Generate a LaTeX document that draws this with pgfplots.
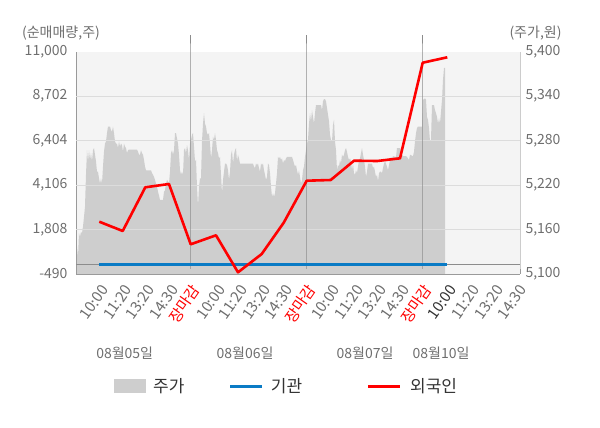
\documentclass[border=0pt]{standalone}
\usepackage{fontspec}
\setmainfont{Noto Sans CJK KR}
\usepackage{pgfplots}
\usepackage{pgfplotstable}
\pgfplotsset{compat=1.18}
\definecolor{bggray}{HTML}{F4F4F4}
\definecolor{areagray}{HTML}{CECECE}
\definecolor{gridgray}{HTML}{DCDCDC}
\definecolor{axgray}{HTML}{9A9A9A}
\definecolor{rightax}{HTML}{CCCCCC}
\definecolor{daygray}{HTML}{8C8C8C}
\definecolor{txtgray}{HTML}{6E6E6E}
\definecolor{darktxt}{HTML}{333333}
\definecolor{instblue}{HTML}{0A7BC5}
\definecolor{forred}{HTML}{FF0000}
\newcommand{\tickfont}{\fontsize{14bp}{16bp}\selectfont}
\newcommand{\xtickfont}{\fontsize{15bp}{17bp}\selectfont}
\newcommand{\legfont}{\fontsize{17bp}{20bp}\selectfont}

% price (right axis), x in pixels from left axis
\pgfplotstableread{
x y
0 5159
1 5137
2 5123
3 5155
4 5150
5 5157
6 5155
7 5164
8 5177
9 5191
10 5234
11 5267
12 5252
13 5267
14 5254
15 5263
16 5252
17 5267
18 5270
19 5261
20 5252
21 5238
22 5238
23 5229
24 5222
25 5229
26 5222
27 5245
28 5265
29 5276
30 5279
31 5290
32 5299
34 5299
35 5294
36 5292
37 5299
38 5290
39 5279
40 5276
41 5276
42 5270
43 5279
44 5272
45 5276
46 5274
47 5265
48 5276
49 5272
50 5270
51 5263
52 5267
53 5268
61 5268
62 5265
63 5261
64 5261
65 5267
66 5263
67 5261
68 5254
69 5245
70 5240
75 5240
76 5236
77 5234
78 5231
79 5227
80 5222
81 5218
82 5211
83 5206
84 5200
87 5200
88 5211
89 5213
90 5222
91 5227
92 5225
93 5222
94 5238
95 5263
96 5267
97 5261
98 5267
99 5290
100 5290
101 5283
102 5276
103 5261
104 5240
105 5234
106 5238
107 5234
108 5267
109 5270
110 5263
111 5274
112 5267
113 5254
114 5276
115 5281
116 5288
117 5290
118 5272
119 5252
120 5254
121 5218
122 5191
123 5218
124 5229
125 5229
126 5279
127 5303
128 5317
129 5303
130 5299
131 5290
132 5288
133 5290
134 5276
135 5256
136 5267
137 5285
138 5281
139 5290
140 5281
141 5267
142 5263
143 5256
144 5258
145 5234
146 5209
147 5227
148 5238
149 5249
150 5249
151 5247
152 5240
153 5227
154 5238
155 5261
156 5267
157 5249
158 5261
159 5267
160 5270
161 5252
162 5261
163 5256
164 5249
177 5249
178 5245
179 5243
180 5249
181 5247
182 5249
183 5243
184 5238
185 5249
186 5247
187 5249
188 5240
189 5234
190 5227
191 5231
192 5249
193 5247
194 5236
195 5218
196 5204
197 5209
198 5204
199 5209
200 5222
201 5236
202 5258
203 5256
204 5258
205 5254
206 5256
207 5249
208 5254
209 5252
210 5256
211 5258
216 5258
217 5254
218 5249
219 5245
220 5247
221 5240
222 5234
223 5240
224 5231
225 5222
226 5227
227 5240
228 5245
229 5258
230 5267
231 5276
232 5281
233 5303
234 5317
235 5306
236 5321
237 5312
238 5303
239 5317
240 5328
245 5328
246 5321
247 5333
248 5336
249 5336
250 5333
251 5324
252 5315
253 5306
254 5288
255 5281
256 5279
257 5301
258 5308
259 5279
260 5267
261 5240
262 5247
263 5245
264 5254
265 5249
266 5261
267 5258
268 5261
269 5267
270 5270
271 5265
272 5258
273 5254
274 5256
275 5252
276 5240
277 5249
278 5236
279 5234
280 5240
281 5236
282 5245
283 5254
284 5256
285 5263
286 5270
287 5261
288 5254
289 5245
290 5231
291 5238
292 5249
296 5249
297 5243
298 5245
299 5238
300 5231
301 5234
302 5225
303 5236
304 5238
305 5238
306 5236
307 5243
308 5249
309 5252
310 5249
311 5245
312 5240
313 5247
314 5254
315 5258
316 5256
317 5259
320 5258
321 5270
324 5270
325 5267
326 5261
327 5259
330 5259
331 5258
332 5256
333 5254
334 5261
337 5259
338 5265
339 5279
340 5290
341 5297
342 5299
346 5299
347 5335
348 5336
349 5337
350 5335
351 5312
352 5308
353 5297
354 5279
355 5281
356 5328
358 5328
359 5321
360 5317
361 5312
362 5303
363 5310
364 5303
365 5319
366 5335
367 5362
368 5378
369 5378
}\pricetable

% foreign net buying (left axis)
\pgfplotstableread{
x y
23.3 2213
46.7 1732
69.3 3991
93.0 4161
114.7 1045
140.0 1510
162.0 -403
185.7 543
207.7 2161
230.7 4332
254.7 4368
278.0 5366
301.3 5350
324.0 5490
346.7 10431
371.3 10711
}\foreigntable

% institutional net buying (left axis)
\pgfplotstableread{
x y
23.3 0
46.7 0
69.3 0
93.0 0
114.7 0
140.0 0
162.0 0
185.7 0
207.7 0
230.7 0
254.7 0
278.0 0
301.3 0
324.0 0
346.7 0
371.3 0
}\insttable

\begin{document}
\begin{tikzpicture}
\path[use as bounding box] (0,0) rectangle (600bp,428bp);

% ---- right axis: price area ----
\begin{axis}[
  at={(76bp,154bp)}, anchor=south west,
  scale only axis, width=444bp, height=222.3bp,
  xmin=0, xmax=444, ymin=5100, ymax=5400,
  scaled y ticks=false,
  axis background/.style={fill=bggray},
  axis x line=none,
  axis y line*=right,
  y axis line style={draw=rightax, -},
  ytick={5100,5160,5220,5280,5340,5400},
  yticklabels={{5,100},{5,160},{5,220},{5,280},{5,340},{5,400}},
  major tick length=0pt,
  yticklabel style={font=\tickfont, text=txtgray, anchor=west, xshift=2bp},
]
\addplot[fill=areagray, draw=none] table {\pricetable} \closedcycle;
\end{axis}

% ---- left axis: net buying ----
\begin{axis}[
  at={(76bp,154bp)}, anchor=south west,
  scale only axis, width=444bp, height=222.3bp,
  xmin=0, xmax=444, ymin=-490, ymax=11000,
  scaled y ticks=false, scaled x ticks=false,
  clip=false,
  axis x line*=bottom, axis y line*=left,
  axis line style={draw=axgray, -},
  ytick={-490,1808,4106,6404,8702,11000},
  yticklabels={-490,{1,808},{4,106},{6,404},{8,702},{11,000}},
  extra y ticks={1808,4106,6404,8702},
  extra y tick labels={},
  extra y tick style={grid=major, major grid style={draw=gridgray, line width=1bp}},
  xtick={23.3,46.7,69.3,93.0,114.7,140.0,162.0,185.7,207.7,230.7,254.7,278.0,301.3,324.0,346.7,371.3,394.6,417.9,441.2},
  xticklabels={10:00,11:20,13:20,14:30,\textcolor{forred}{장마감},
               10:00,11:20,13:20,14:30,\textcolor{forred}{장마감},
               10:00,11:20,13:20,14:30,\textcolor{forred}{장마감},
               \textcolor{darktxt}{10:00},11:20,13:20,14:30},
  major tick length=0pt,
  yticklabel style={font=\tickfont, text=txtgray, anchor=east, xshift=-5bp},
  xticklabel style={font=\xtickfont, text=txtgray, rotate=55, anchor=east, xshift=-4bp, yshift=-12bp},
]
\draw[daygray, line width=0.9bp] (axis cs:114,-490) ++(0,-4bp) -- (axis cs:114,11000) -- ++(0,7bp);
\draw[daygray, line width=0.9bp] (axis cs:230,-490) ++(0,-4bp) -- (axis cs:230,11000) -- ++(0,7bp);
\draw[daygray, line width=0.9bp] (axis cs:346,-490) ++(0,-4bp) -- (axis cs:346,11000) -- ++(0,7bp);
\draw[axgray, line width=0.9bp] (axis cs:0,-490) -- ++(0,-4bp);
\draw[axgray, line width=0.9bp] (axis cs:444,-490) -- ++(0,-4bp);
\addplot[daygray, line width=0.9bp] coordinates {(0,0) (444,0)};
\addplot[instblue, line width=3bp] table {\insttable};
\addplot[forred, line width=2.6bp, line join=round] table {\foreigntable};
\end{axis}

% units
\node[font=\tickfont, text=txtgray] at (61bp,394.7bp) {(순매매량,주)};
\node[font=\tickfont, text=txtgray] at (535.5bp,394.7bp) {(주가,원)};

% dates
\node[font=\tickfont, text=txtgray] at (124.7bp,74.7bp) {08월05일};
\node[font=\tickfont, text=txtgray] at (245bp,74.7bp) {08월06일};
\node[font=\tickfont, text=txtgray] at (365bp,74.7bp) {08월07일};
\node[font=\tickfont, text=txtgray] at (441bp,74.7bp) {08월10일};

% legend
\fill[areagray] (114.3bp,34.5bp) rectangle (145.7bp,48.5bp);
\node[font=\legfont, text=darktxt, anchor=west, inner sep=0pt] at (153bp,41.5bp) {주가};
\draw[instblue, line width=3bp] (230bp,41.5bp) -- (261.7bp,41.5bp);
\node[font=\legfont, text=darktxt, anchor=west, inner sep=0pt] at (270.7bp,41.5bp) {기관};
\draw[forred, line width=3bp] (368bp,41.5bp) -- (400bp,41.5bp);
\node[font=\legfont, text=darktxt, anchor=west, inner sep=0pt] at (410bp,41.5bp) {외국인};
\end{tikzpicture}
\end{document}
